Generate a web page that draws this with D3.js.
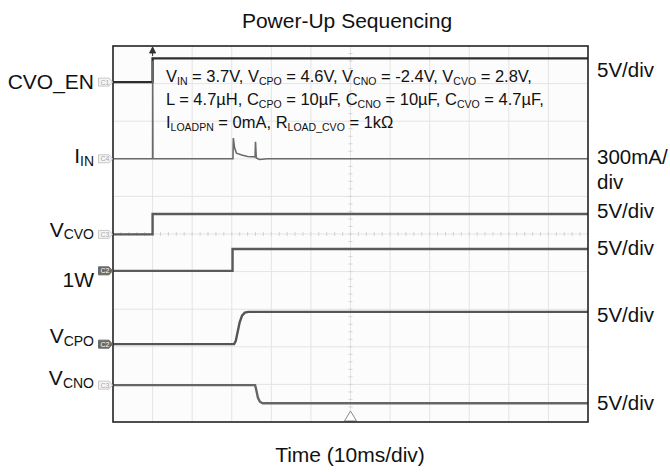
<!DOCTYPE html>
<html>
<head>
<meta charset="utf-8">
<script src="https://cdn.jsdelivr.net/npm/d3@7"></script>
<style>
  body { margin: 0; background: #fff; }
  text { font-family: "Liberation Sans", Arial, sans-serif; fill: #111; }
</style>
</head>
<body>
<svg id="chart" width="670" height="472"></svg>
<script>
// time in ms (10ms/div, 12 div), level in screen divisions from bottom (10 div)
const cvoEn = [[0, 9.04], [10, 9.04], [10, 9.67], [120, 9.67]];
const iIn = [[0, 7.0], [10, 7.0], [10.02, 9.6], [10.08, 7.0], [30.3, 7.0], [30.4, 7.55], [30.7, 7.3], [31.2, 7.15], [32.5, 7.1], [34, 7.06], [35.9, 7.05], [36.0, 7.45], [36.2, 7.02], [37, 6.98], [39, 7.0], [120, 7.0]];
const vCvo = [[0, 4.99], [10, 4.99], [10, 5.53], [120, 5.53]];
const oneW = [[0, 4.02], [30.2, 4.02], [30.2, 4.6], [120, 4.6]];
const vCpo = [[0, 2.07], [30.6, 2.07], [31.0, 2.15], [31.5, 2.4], [32.0, 2.65], [32.6, 2.83], [33.3, 2.91], [34.2, 2.93], [120, 2.93]];
const vCno = [[0, 0.98], [35.9, 0.98], [36.2, 0.85], [36.6, 0.65], [37.1, 0.54], [37.8, 0.5], [120, 0.5]];

const traces = [cvoEn, iIn, vCvo, oneW, vCpo, vCno];
const traceColors = ['#2e2e2e', '#6a6a6a', '#5a5a5a', '#5a5a5a', '#555', '#666'];
const tags = [['C1', 9.04, false], ['C4', 7.0, false], ['C3', 4.99, false], ['C2', 4.02, true], ['C2', 2.07, true], ['C3', 0.98, false]];
const leftLabels = [[['CVO_EN', 0]], [['I', 0], ['IN', 1]], [['V', 0], ['CVO', 1]], [['1W', 0]], [['V', 0], ['CPO', 1]], [['V', 0], ['CNO', 1]]];
const leftLevels = [8.856, 6.88, 4.93, 3.6, 2.09, 0.98];
const rightLabels = ['5V/div', '300mA/', 'div', '5V/div', '5V/div', '5V/div', '5V/div'];
const rightLevels = [9.18, 6.85, 6.2, 5.42, 4.44, 2.67, 0.32];
const note = [
    [['V', 0], ['IN', 1], [' = 3.7V, V', 0], ['CPO', 1], [' = 4.6V, V', 0], ['CNO', 1], [' = -2.4V, V', 0], ['CVO', 1], [' = 2.8V,', 0]],
    [['L = 4.7µH, C', 0], ['CPO', 1], [' = 10µF, C', 0], ['CNO', 1], [' = 10µF, C', 0], ['CVO', 1], [' = 4.7µF,', 0]],
    [['I', 0], ['LOADPN', 1], [' = 0mA, R', 0], ['LOAD_CVO', 1], [' = 1kΩ', 0]],
];

const pLeft = 113, pRight = 588, pTop = 46, pBottom = 422;
const x = d3.scaleLinear().domain([0, 120]).range([pLeft, pRight]);
const y = d3.scaleLinear().domain([0, 10]).range([pBottom, pTop]);
const svg = d3.select('#chart');

svg.append('rect').attr('x', pLeft).attr('y', pTop).attr('width', pRight - pLeft).attr('height', pBottom - pTop).attr('fill', '#fcfcfc');

// grid
const g = svg.append('g').attr('stroke', '#e4e4e4').attr('stroke-width', 1);
g.selectAll('.vx').data(d3.range(10, 120, 10)).enter().append('line')
    .attr('x1', d => x(d)).attr('x2', d => x(d)).attr('y1', pTop).attr('y2', pBottom);
g.selectAll('.hy').data(d3.range(1, 10)).enter().append('line')
    .attr('y1', d => y(d)).attr('y2', d => y(d)).attr('x1', pLeft).attr('x2', pRight);
// minor ticks on center lines
g.selectAll('.tx').data(d3.range(0, 120, 2)).enter().append('line')
    .attr('x1', d => x(d)).attr('x2', d => x(d)).attr('y1', y(5) - 2).attr('y2', y(5) + 2).attr('stroke', '#d4d4d4');
g.selectAll('.ty').data(d3.range(0, 10, 0.2)).enter().append('line')
    .attr('y1', d => y(d)).attr('y2', d => y(d)).attr('x1', x(60) - 2).attr('x2', x(60) + 2).attr('stroke', '#d4d4d4');

// traces
const line = d3.line().x(d => x(d[0])).y(d => y(d[1]));
svg.selectAll('.trace').data(traces).enter().append('path')
    .attr('d', line).attr('fill', 'none')
    .attr('stroke', (d, i) => traceColors[i])
    .attr('stroke-width', (d, i) => i === 1 ? 1.6 : 2.4);

// trigger markers
svg.append('path').attr('d', `M${x(10)},${pTop + 1} l-3,6 h6 z M${x(10)},${pTop + 6} v4`).attr('fill', '#333').attr('stroke', '#333').attr('stroke-width', 1);
svg.append('path').attr('d', `M${x(60)},${pBottom - 11} l-6,10 h12 z`).attr('fill', '#fff').attr('stroke', '#888');

// frame
svg.append('rect').attr('x', pLeft).attr('y', pTop).attr('width', pRight - pLeft).attr('height', pBottom - pTop)
    .attr('fill', 'none').attr('stroke', '#222').attr('stroke-width', 1.6);

// channel tags
const tg = svg.selectAll('.tag').data(tags).enter().append('g')
    .attr('transform', d => `translate(${pLeft - 14.5},${y(d[1])})`);
tg.append('path').attr('d', 'M0,-4 h10.5 l3.5,4 l-3.5,4 h-10.5 z')
    .attr('fill', d => d[2] ? '#6a6a6a' : '#f4f4f4').attr('stroke', d => d[2] ? '#6a6a6a' : '#c8c8c8');
tg.append('text').attr('x', 2).attr('y', 2.6).attr('font-size', 7)
    .style('fill', d => d[2] ? '#fff' : '#aaa').text(d => d[0]);

// left labels
const ll = svg.selectAll('.ll').data(leftLabels).enter().append('text')
    .attr('x', 94).attr('y', (d, i) => y(leftLevels[i])).attr('text-anchor', 'end').attr('font-size', 21);
ll.selectAll('tspan').data(d => d).enter().append('tspan')
    .attr('font-size', d => d[1] ? 14 : 21).attr('dy', (d, i) => d[1] ? 2.5 : (i > 0 ? -2.5 : 0)).text(d => d[0]);

// right labels
svg.selectAll('.rl').data(rightLabels).enter().append('text')
    .attr('x', 597).attr('y', (d, i) => y(rightLevels[i])).attr('font-size', 20.5).text(d => d);

// note
const nt = svg.selectAll('.note').data(note).enter().append('text')
    .attr('x', 166).attr('y', (d, i) => 82 + i * 23).attr('font-size', 16.5);
nt.selectAll('tspan').data(d => d).enter().append('tspan')
    .attr('font-size', d => d[1] ? 10.5 : 16.5)
    .attr('dy', (d, i) => d[1] ? 2.5 : (i > 0 ? -2.5 : 0)).text(d => d[0]);

svg.append('text').attr('x', 347).attr('y', 28).attr('text-anchor', 'middle').attr('font-size', 21).text('Power-Up Sequencing');
svg.append('text').attr('x', 350).attr('y', 462).attr('text-anchor', 'middle').attr('font-size', 21).text('Time (10ms/div)');
</script>
</body>
</html>
